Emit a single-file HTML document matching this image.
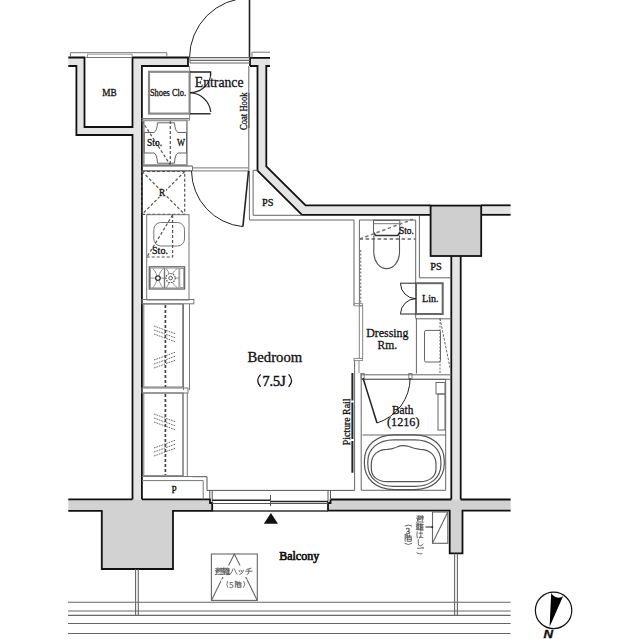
<!DOCTYPE html>
<html><head><meta charset="utf-8">
<style>
html,body{margin:0;padding:0;background:#fff;}
svg{display:block;}
text{font-family:"Liberation Serif",serif;fill:#111;stroke:#111;stroke-width:0.3px;}
</style></head><body>
<svg width="640" height="639" viewBox="0 0 640 639">
<g id="walls-fill" stroke="none">
  <polygon fill="#e4e4e4" points="68.3,57.5 84.5,57.5 84.5,127 132.5,127 132.5,57.5 188,57.5 188,66 141.9,66 141.9,499.3 132.5,499.3 132.5,135 76.4,135 76.4,66 68.3,66"/>
  <polygon fill="#e4e4e4" points="250,57.8 270,57.8 270,66 266.3,66 266.3,166.3 305.6,205.3 430.6,205.3 430.6,214.8 302,214.8 257.5,170.6 257.5,66 250,66"/>
  <rect fill="#e4e4e4" x="481" y="205.3" width="29.6" height="9.5"/>
  <rect fill="#e4e4e4" x="451.3" y="256" width="9.4" height="243.5"/>
  <polygon fill="#d2d2d2" points="68.3,499.3 210,499.3 210,503 212.2,503 212.2,510.8 173,510.8 173,569 101.8,569 101.8,510.8 68.3,510.8"/>
  <polygon fill="#d2d2d2" points="330.5,499.5 510.6,499.5 510.6,510.6 462.5,510.6 462.5,553.4 449.7,553.4 449.7,510.6 328,510.6 328,503 330.5,503"/>
  <rect fill="#cfcfcf" x="430.6" y="205.6" width="50.6" height="50.4"/>
</g>
<g id="walls-lines" fill="none" stroke="#111" stroke-width="1.8" stroke-linejoin="miter">
  <polyline points="68.3,57.5 84.5,57.5 84.5,127 132.5,127 132.5,57.5 188,57.5 188,66 141.9,66 141.9,499.3"/>
  <polyline points="68.3,66 76.4,66 76.4,135 132.5,135 132.5,499.3"/>
  <polyline points="250,66 250,57.8 270,57.8"/>
  <polyline points="270,66 266.3,66 266.3,166.3 305.6,205.3 430.6,205.3"/>
  <polyline points="250,66 257.5,66 257.5,170.6 302,214.8 430.6,214.8"/>
  <rect x="430.6" y="205.6" width="50.6" height="50.4"/>
  <line x1="481" y1="205.3" x2="510.6" y2="205.3"/>
  <line x1="481" y1="214.8" x2="510.6" y2="214.8"/>
  <line x1="451.3" y1="256" x2="451.3" y2="499.5"/>
  <line x1="460.7" y1="256" x2="460.7" y2="499.5"/>
  <polyline points="68.3,499.3 132.5,499.3"/>
  <polyline points="141.9,499.3 210,499.3 210,503 212.2,503 212.2,510.8 173,510.8 173,569 101.8,569 101.8,510.8 68.3,510.8"/>
  <polyline points="330.5,499.5 451.3,499.5"/>
  <polyline points="460.7,499.5 510.6,499.5"/>
  <polyline points="510.6,510.6 462.5,510.6 462.5,553.4 449.7,553.4 449.7,510.6 328,510.6 328,503 330.5,503 330.5,499.5"/>
</g>

<!-- interior thin lines -->
<g fill="none" stroke="#666" stroke-width="1">
  <!-- coat hook wall face & PS (entrance) -->
  <polyline points="248.8,66 248.8,171"/>
  <line x1="249" y1="93" x2="249" y2="128" stroke="#555" stroke-width="1.1"/>
  <polyline points="249.4,171 249.4,220 354,220 354,305"/>
  <polyline points="257.5,170.3 253.1,170.3 253.1,215.3 302,215.3"/>
  <!-- shoes closet -->
  <rect x="149" y="71.8" width="40.6" height="41.8" stroke="#8a8a8a" stroke-width="2.2"/>
  <line x1="141.5" y1="118.6" x2="190" y2="118.6" stroke="#777" stroke-width="1.2"/>
  <line x1="141.5" y1="120.4" x2="190" y2="120.4" stroke="#999" stroke-width="0.8"/>
  <line x1="189.6" y1="66" x2="189.6" y2="120" stroke="#888" stroke-width="1"/>
</g>
<g fill="none" stroke="#222" stroke-width="1.1">
  <polyline points="190,72 210.6,72 210.6,76" stroke-width="1.4"/>
  <path d="M210.6,76 A20.6,20.6 0 0 1 190,92.6"/>
  <line x1="190" y1="113.8" x2="210.6" y2="113.8" stroke-width="1.4"/>
  <path d="M210.8,112 A21.5,21.5 0 0 0 190,92.8"/>
</g>
<!-- washer / storage -->
<g fill="none" stroke="#777" stroke-width="1">
  <rect x="143.8" y="120.4" width="43.1" height="44.6" stroke="#999" stroke-width="1.8"/>
  <path d="M157.5,122.8 L174.5,122.8 Q175,131 178,132.5 L186.5,132.5 L186.5,153 L178,153 Q175,154 174.5,163.2 L157.5,163.2 Q157,154 154,153 L144.2,153 L144.2,132.5 L154,132.5 Q157,131 157.5,122.8 Z" stroke="#666"/>
  <line x1="170.3" y1="121" x2="170.3" y2="165" stroke-dasharray="3,2" stroke="#555" stroke-width="1.2"/>
  <line x1="142" y1="121" x2="170.3" y2="165" stroke-dasharray="3,2" stroke="#555" stroke-width="1.2"/>
  <line x1="141.5" y1="166" x2="192.5" y2="166" stroke="#555" stroke-width="1.2"/>
  <line x1="141.5" y1="170.8" x2="192.5" y2="170.8" stroke="#555" stroke-width="1.2"/>
  <line x1="192.5" y1="166" x2="192.5" y2="171"/>
  <!-- threshold interior door -->
  <line x1="192.5" y1="167.9" x2="248.5" y2="167.9"/>
  <line x1="192.5" y1="170.9" x2="248.5" y2="170.9"/>
  <!-- fridge -->
  <rect x="142" y="171.5" width="42.7" height="42.9" stroke-dasharray="3,2" stroke="#555" stroke-width="1.2"/>
  <line x1="142" y1="171.5" x2="184.7" y2="214.4" stroke-dasharray="3,2" stroke="#555" stroke-width="1.2"/>
  <line x1="184.7" y1="171.5" x2="142" y2="214.4" stroke-dasharray="3,2" stroke="#555" stroke-width="1.2"/>
  <!-- kitchen -->
  <rect x="146.7" y="214.7" width="42.3" height="85.3"/>
  <rect x="153.8" y="222.5" width="30.7" height="23.5" rx="7"/>
  <polyline points="146.7,257 172.6,257 172.6,214.7" stroke-dasharray="3,2" stroke="#555" stroke-width="1.2"/>
  <line x1="172.6" y1="215" x2="147" y2="257" stroke-dasharray="3,2" stroke="#555" stroke-width="1.2"/>
  <rect x="149.3" y="266.8" width="35.3" height="22.2" stroke="#666" stroke-width="1.3"/>
  <rect x="150.6" y="268.1" width="28.3" height="19.8" stroke="#888" stroke-width="0.8"/>
  <rect x="179.8" y="268.5" width="3.9" height="19" stroke="#888" stroke-width="0.8"/>
  <line x1="164.5" y1="268" x2="164.5" y2="288" stroke="#777" stroke-width="1.4"/>
  <path d="M152.8,268.5 C156,272 156.5,275 157.9,278.1 C159.3,275 159.8,272 163,268.5 M152.8,288 C156,284 156.5,281 157.9,278.1 C159.3,281 159.8,284 163,288 M150.6,278.1 H164.5 M166,268.5 C169.2,272 169.7,275 170.6,278.1 C172,275 172.5,272 177.5,268.5 M166,288 C169.2,284 169.7,281 170.6,278.1 C172,281 172.5,284 177.5,288 M164.5,278.1 H178.9" stroke="#777" stroke-width="0.8"/>
  <circle cx="157.9" cy="278.1" r="2.3" stroke="#333" stroke-width="1.3" fill="#fff"/>
  <circle cx="170.6" cy="278.1" r="4.6" stroke="#555" stroke-width="1.1" stroke-dasharray="1.6,1" fill="#fff"/>
  <circle cx="170.6" cy="278.1" r="1.8" stroke="#444" stroke-width="0.9"/>
  <rect x="142" y="299.5" width="51.8" height="4.3" stroke="#777"/>
  <!-- closets -->
  <rect x="143.8" y="304" width="38.9" height="83" stroke="#777"/>
  <line x1="165.4" y1="305" x2="165.4" y2="387" stroke="#444" stroke-width="1.7" stroke-dasharray="3,2"/>
  <line x1="183.5" y1="304" x2="183.5" y2="390"/>
  <line x1="189.5" y1="304" x2="189.5" y2="390"/>
  <rect x="142" y="388" width="46" height="5" stroke="#777"/>
  <rect x="143.8" y="393" width="39.2" height="82.7" stroke="#777"/>
  <line x1="165.4" y1="394" x2="165.4" y2="475" stroke="#444" stroke-width="1.7" stroke-dasharray="3,2"/>
  <line x1="183" y1="393" x2="183" y2="476"/>
  <line x1="187.3" y1="393" x2="187.3" y2="476"/>
  <polyline points="142,480.6 203.2,480.6 203.2,499.3"/>
  <line x1="142" y1="476.5" x2="192.2" y2="476.5"/>
</g>
<g fill="none" stroke="#555" stroke-width="0.9" stroke-dasharray="1.6,1">
  <path d="M154,326 L176,334 M154,330 L176,338 M154,334 L176,342"/>
  <path d="M154,364 L176,356 M154,360 L176,352 M154,368 L176,360"/>
  <path d="M154,414 L176,422 M154,418 L176,426 M154,422 L176,430"/>
  <path d="M154,452 L176,444 M154,448 L176,440 M154,456 L176,448"/>
</g>
<!-- interior door -->
<g fill="none" stroke="#222" stroke-width="1">
  <line x1="248.5" y1="171" x2="242.9" y2="226.6" stroke-width="1.6"/>
  <path d="M242.9,226.6 A56.5,56.5 0 0 1 191.5,171"/>
</g>
<!-- dressing / toilet -->
<g fill="none" stroke="#666" stroke-width="1">
  <line x1="359.4" y1="220" x2="359.4" y2="305"/>
  <polyline points="359.4,220 415.7,220 415.7,318.3"/>
  <line x1="360.4" y1="250" x2="360.4" y2="303" stroke-dasharray="2,1.6" stroke="#888" stroke-width="1.8"/>
  <polyline points="373.5,232.5 373.5,220.4 399.8,220.4 399.8,232.5" stroke="#666" stroke-width="1.1"/>
  <line x1="373.5" y1="223.7" x2="399.8" y2="223.7" stroke="#777"/>
  <path d="M373.5,232.5 L375.5,235.5 L397.8,235.5 L399.8,232.5" stroke="#333" stroke-width="1.7"/>
  <path d="M373.8,235.5 L373.8,252 C373.8,262 380,268.6 386.6,268.6 C393.2,268.6 399.5,262 399.5,252 L399.5,235.5" stroke="#555" stroke-width="1.1"/>
  <line x1="359.6" y1="239" x2="415.7" y2="239" stroke-dasharray="3.5,2.5" stroke="#666" stroke-width="1.5"/>
  <line x1="359.6" y1="239" x2="413" y2="219.3" stroke-dasharray="3.5,2.5" stroke="#777" stroke-width="1.5"/>
  <polyline points="419.4,215.5 419.4,277.8 451.3,277.8"/>
  <rect x="416" y="283.2" width="26.7" height="30.8" stroke="#666" stroke-width="2"/>
  <line x1="415.7" y1="318.8" x2="451.3" y2="318.8"/>
  <!-- partition bedroom/dressing -->
  <rect x="354" y="303.6" width="8.5" height="2.2" stroke="#888" stroke-width="0.9"/>
  <rect x="359.3" y="305.8" width="3.4" height="52.6" stroke="#777" stroke-width="0.9"/>
  <rect x="354" y="358.4" width="8.5" height="2.2" stroke="#888" stroke-width="0.9"/>
  <line x1="354.6" y1="360.6" x2="354.6" y2="490.3"/>
  <line x1="359" y1="360.6" x2="359" y2="373" stroke="#888"/>
  <line x1="361.2" y1="373" x2="361.2" y2="490.3"/>
  <rect x="361" y="373.5" width="3.2" height="5.5" stroke="#777" stroke-width="0.9"/>
  <rect x="408.8" y="373.5" width="3.2" height="5.5" stroke="#777" stroke-width="0.9"/>
  <line x1="416.4" y1="318" x2="416.4" y2="373.5"/>
  <rect x="424.5" y="330.4" width="16" height="31.6" rx="1.5"/>
  <line x1="440" y1="318.5" x2="440" y2="373" stroke-dasharray="2,1.5"/>
  <line x1="440" y1="318.5" x2="450.5" y2="370" stroke-dasharray="2.5,1.5"/>
  <line x1="361.5" y1="374.8" x2="451.3" y2="374.8"/>
  <line x1="361.5" y1="379.3" x2="451.3" y2="379.3"/>
  <rect x="436" y="382.5" width="9" height="11.5"/>
  <rect x="438" y="394" width="7" height="36"/>
  <polyline points="364,379.3 445.7,379.3 445.7,490.3 361.2,490.3"/>
  <line x1="362.5" y1="435" x2="446" y2="435"/>
  <path d="M394.4,434.8 L414.3,434.8 C432.3,434.8 444.3,445.2 444.3,460.8 L444.3,463.6 C444.3,479.2 432.3,489.6 414.3,489.6 L394.4,489.6 C376.4,489.6 364.4,479.2 364.4,463.6 L364.4,460.8 C364.4,445.2 376.4,434.8 394.4,434.8 Z" stroke="#555" stroke-width="1.2"/>
  <path d="M393.8,439.8 L414.9,439.8 C430.5,439.8 440.9,448.6 440.9,461.8 L440.9,464.4 C440.9,477.6 430.5,486.4 414.9,486.4 L393.8,486.4 C378.2,486.4 367.8,477.6 367.8,464.4 L367.8,461.8 C367.8,448.6 378.2,439.8 393.8,439.8 Z" stroke="#555" stroke-width="1.2"/>
  <path d="M387.3,449.3 C395.3,448.8 393,447.8 397,447 C400,445.5 405,445.3 409,446.5 C412,447.8 416,448.8 420.0,449.3 C429.6,449.3 436.0,455.3 436.0,464.3 L436.0,468.7 C436.0,476.5 429.6,481.7 420.0,481.7 L387.3,481.7 C377.7,481.7 371.3,476.5 371.3,468.7 L371.3,464.3 C371.3,455.3 377.7,449.3 387.3,449.3 Z" stroke="#555" stroke-width="1.2"/>
</g>
<g fill="none" stroke="#222" stroke-width="1">
  <polyline points="400,283.2 415.7,283.2"/>
  <path d="M400.5,283.5 A15.5,15.5 0 0 0 415.7,298.7"/>
  <polyline points="400,314 415.7,314"/>
  <path d="M400.5,313.7 A15.5,15.5 0 0 1 415.7,298.7"/>
  <line x1="363" y1="378" x2="377" y2="423" stroke-width="1.5"/>
  <path d="M377,423 A47.1,47.1 0 0 0 410.1,378"/>
  <path d="M352.4,373 V400.5 M352.4,402.5 V439 M352.4,441 V472.7" stroke-width="2"/>
</g>

<!-- texts -->
<g id="texts">
  <text x="102.2" y="95.6" font-size="9.5" textLength="14.4" lengthAdjust="spacingAndGlyphs">MB</text>
  <text x="150" y="95.6" font-size="9.3" textLength="36" lengthAdjust="spacingAndGlyphs">Shoes Clo.</text>
  <text x="194.8" y="86.5" font-size="14.8" textLength="48.7" lengthAdjust="spacingAndGlyphs">Entrance</text>
  <text transform="translate(247.2,130) rotate(-90)" x="0" y="0" font-size="10.5" textLength="37.5" lengthAdjust="spacingAndGlyphs">Coat Hook</text>
  <text x="147" y="146" font-size="9.3" textLength="15" lengthAdjust="spacingAndGlyphs">Sto.</text>
  <text x="177" y="146" font-size="9.3" textLength="8" lengthAdjust="spacingAndGlyphs">W</text>
  <rect x="158.5" y="188" width="7.5" height="9" fill="#fff" stroke="none"/><text x="159" y="195.6" font-size="9.3">R</text>
  <text x="152" y="253.5" font-size="9.3" textLength="16" lengthAdjust="spacingAndGlyphs">Sto.</text>
  <text x="262" y="206" font-size="9.3" textLength="11.5" lengthAdjust="spacingAndGlyphs">PS</text>
  <text x="247.5" y="361.9" font-size="14.3" textLength="54.8" lengthAdjust="spacingAndGlyphs">Bedroom</text>
  <text x="398.9" y="234" font-size="9.3" textLength="15" lengthAdjust="spacingAndGlyphs">Sto.</text>
  <text x="430.3" y="270" font-size="9.3" textLength="11.5" lengthAdjust="spacingAndGlyphs">PS</text>
  <text x="422" y="301.5" font-size="9.3" textLength="16.5" lengthAdjust="spacingAndGlyphs">Lin.</text>
  <text x="366.2" y="336.6" font-size="13.4" textLength="42.3" lengthAdjust="spacingAndGlyphs">Dressing</text>
  <text x="377.6" y="348.8" font-size="13.4" textLength="19.6" lengthAdjust="spacingAndGlyphs">Rm.</text>
  <text x="392" y="414" font-size="12.5" textLength="21.4" lengthAdjust="spacingAndGlyphs">Bath</text>
  <text x="387" y="425.5" font-size="12.5" textLength="32.5" lengthAdjust="spacingAndGlyphs">(1216)</text>
  <text transform="translate(349.5,445.3) rotate(-90)" x="0" y="0" font-size="10" textLength="46.8" lengthAdjust="spacingAndGlyphs">Picture Rail</text>
  <text x="171.5" y="492.5" font-size="9.3">P</text>
  <text x="279.2" y="559.5" style="stroke-width:0.7px" font-size="13.2" textLength="40" lengthAdjust="spacingAndGlyphs">Balcony</text>
</g>
<g fill="none" stroke="#111" stroke-width="0.9">
  <path d="M260.6,374.3 Q254.8,380.5 260.6,386.8" stroke-width="1.2"/>
  <path d="M288.6,374.3 Q294.4,380.5 288.6,386.8" stroke-width="1.2"/>
</g>
<text x="262.4" y="386.1" font-size="14" textLength="23.3" lengthAdjust="spacingAndGlyphs" style="stroke-width:0.45px">7.5J</text>
<!-- compass -->
<g>
  <circle cx="553.6" cy="610.4" r="18.2" fill="none" stroke="#111" stroke-width="1.2"/>
  <path d="M549.6,626.8 L551.2,593 C553,597 559,599.5 563.2,596 Z" fill="#000"/>
  <text x="543.5" y="638.3" font-size="11" font-weight="bold" font-style="italic" style="font-family:'Liberation Sans',sans-serif" textLength="9.6" lengthAdjust="spacingAndGlyphs">N</text>
</g>
<!-- parapet -->
<g fill="none" stroke="#777" stroke-width="1">
  <polyline points="70.5,57 70.5,52.7 166.8,52.7 166.8,57"/>
  <line x1="85.5" y1="57.5" x2="131.5" y2="57.5"/>
  <polyline points="87.5,57 87.5,54.2 132.2,54.2 132.2,57" stroke="#999"/>
  <polyline points="252,57.5 252,52.2 270,52.2"/>
</g>
<!-- entrance door -->
<g fill="none" stroke="#222" stroke-width="1.2">
  <line x1="249.5" y1="0" x2="249.5" y2="58" stroke-width="1.6"/>
  <path d="M189.5,58 A60,60 0 0 1 249.5,-2" stroke-width="1"/>
  <line x1="189" y1="57.6" x2="250" y2="57.6" stroke="#666"/>
  <line x1="190" y1="60.3" x2="250" y2="60.3" stroke="#666"/>
  <line x1="190" y1="63" x2="250" y2="63" stroke="#666"/>
  <line x1="189.6" y1="57.5" x2="190.3" y2="63" stroke="#777"/>
</g>
<!-- balcony -->
<g fill="none" stroke="#666" stroke-width="1.1">
  <line x1="68" y1="602.2" x2="510.6" y2="602.2"/>
  <line x1="68" y1="611" x2="510.6" y2="611"/>
  <line x1="68" y1="615.4" x2="510.6" y2="615.4"/>
  <line x1="68" y1="623.5" x2="510.6" y2="623.5"/>
  <line x1="68" y1="633.5" x2="510.6" y2="633.5"/>
  <line x1="135.6" y1="569" x2="135.6" y2="615.4"/>
  <line x1="138.3" y1="569" x2="138.3" y2="615.4"/>
  <line x1="454.6" y1="553.4" x2="454.6" y2="615.4"/>
  <line x1="457.4" y1="553.4" x2="457.4" y2="615.4"/>
  <rect x="211.4" y="554" width="45.9" height="46.4"/>
  <polyline points="211.4,600.4 234.3,554 257.3,600.4"/>
  <rect x="432.5" y="512" width="15.3" height="31.3"/>
  <line x1="432.5" y1="543.3" x2="447.8" y2="512"/>
  <line x1="425.5" y1="527" x2="432.5" y2="527" stroke="#333"/>
</g>
<!-- window -->
<g fill="none" stroke="#555" stroke-width="1">
  <polyline points="192.2,476.7 207,476.7 207,490.4 354.6,490.4"/>
  <line x1="209.8" y1="490.4" x2="209.8" y2="499.3"/>
  <line x1="212.2" y1="490.4" x2="212.2" y2="503"/>
  <line x1="328" y1="490.4" x2="328" y2="503"/>
  <line x1="330.5" y1="490.4" x2="330.5" y2="499.5"/>
  <line x1="212.2" y1="500.3" x2="271" y2="500.3" stroke="#222" stroke-width="1.6"/><line x1="270" y1="501.5" x2="328" y2="501.5" stroke="#222" stroke-width="1.6"/>
  <line x1="212.2" y1="503.5" x2="328" y2="503.5"/>
  <line x1="212.2" y1="511" x2="328" y2="511" stroke="#333" stroke-width="1.3"/>
  <line x1="270.5" y1="495" x2="270.5" y2="506"/>
</g>
<polygon points="263.8,523.8 278,523.8 270.9,513" fill="#111"/>
<!-- japanese glyph approximations -->
<rect x="213.5" y="565.5" width="41" height="11.5" fill="#fff"/>
<rect x="221" y="579.5" width="26" height="9.5" fill="#fff"/>
<g fill="none" stroke="#5a5a5a" stroke-linecap="round">
<path transform="translate(214.80,567.50) scale(0.740)" d="M1,1 L2,2 M0.5,4 L2,4 L2,8 M0.5,9.5 Q3,8.5 10,9.5 M3,1 L6,1 L6,3 L3,3 M3,1 L3,7 M4,4 L6,4 L6,6 L4,6 Z M7,1.5 L10,1.5 M8.5,0.5 L8.5,1.5 M7,3 L10,3 M7,5 L10,5 M8.5,3 L8.5,8" stroke-width="1.2"/>
<path transform="translate(222.40,567.50) scale(0.740)" d="M0,1.5 L5,1.5 M1.5,0.5 L1.5,3 M3.5,0.5 L3.5,3 M1,3.5 L4,3.5 L4,5.5 L1,5.5 Z M0.5,7 L4.5,7 M2.5,5.5 L2.5,9 M0,9 L5,9 M6.5,0.5 L5.5,3 M6,2 L6,10 M6,2 L10,2 M8,1 L8,9.5 M6.5,4 L9.5,4 M6.5,6 L9.5,6 M6.5,8 L9.5,8 M6,9.5 L10,9.5" stroke-width="1.2"/>
<path transform="translate(230.00,567.50) scale(0.740)" d="M4,2 Q3,6 0.5,9 M6,2 Q7,6 9.5,9" stroke-width="1.2"/>
<path transform="translate(237.60,567.50) scale(0.740)" d="M2,4 L3,6 M4.5,3.5 L5.5,5.5 M8,3.5 Q7.5,8 3,9.5" stroke-width="1.2"/>
<path transform="translate(245.20,567.50) scale(0.740)" d="M8,1 Q5,2 2,2.5 M0.5,5 L9.5,5 M5,2.5 L5,6 Q5,9 2.5,9.5" stroke-width="1.2"/>
<path transform="translate(223.60,580.90) scale(0.680)" d="M6,0.5 Q3,5 6,9.5" stroke-width="1.2"/>
<path transform="translate(235.00,581.00) scale(0.660)" d="M0.5,0.5 L0.5,10 M0.5,0.5 L2.5,0.5 L1.5,3 L2.5,5 L0.5,6 M3.5,1 L3.5,4 L5.5,4 M6.5,1 L6.5,4 L9.5,4 M3,2.5 L5.5,2.5 M6.5,2.5 L9,2.5 M3.5,5 L9,5 L9,10 L3.5,10 L3.5,5 M3.5,7.5 L9,7.5" stroke-width="1.2"/>
<path transform="translate(241.10,580.90) scale(0.680)" d="M4,0.5 Q7,5 4,9.5" stroke-width="1.2"/>
<path transform="translate(416.10,515.20) scale(0.730)" d="M1,1 L2,2 M0.5,4 L2,4 L2,8 M0.5,9.5 Q3,8.5 10,9.5 M3,1 L6,1 L6,3 L3,3 M3,1 L3,7 M4,4 L6,4 L6,6 L4,6 Z M7,1.5 L10,1.5 M8.5,0.5 L8.5,1.5 M7,3 L10,3 M7,5 L10,5 M8.5,3 L8.5,8" stroke-width="1.2"/>
<path transform="translate(416.10,523.10) scale(0.730)" d="M0,1.5 L5,1.5 M1.5,0.5 L1.5,3 M3.5,0.5 L3.5,3 M1,3.5 L4,3.5 L4,5.5 L1,5.5 Z M0.5,7 L4.5,7 M2.5,5.5 L2.5,9 M0,9 L5,9 M6.5,0.5 L5.5,3 M6,2 L6,10 M6,2 L10,2 M8,1 L8,9.5 M6.5,4 L9.5,4 M6.5,6 L9.5,6 M6.5,8 L9.5,8 M6,9.5 L10,9.5" stroke-width="1.2"/>
<path transform="translate(416.10,531.00) scale(0.730)" d="M1.5,1 Q0.5,5 1.5,9.5 M4,3 L9,3 M6.5,1 L6.5,8 Q6.5,9.5 5,9.5 Q3.5,9.5 4,8.5 Q5,7.5 9.5,9" stroke-width="1.2"/>
<path transform="translate(416.10,538.90) scale(0.730)" d="M3,1 L3,7 Q3,9.5 6,9.5 Q8,9.5 9.5,7" stroke-width="1.2"/>
<path transform="translate(416.10,546.80) scale(0.730)" d="M2,2 L7,2 M1,8 Q1,9.5 5,9.5 L8,9.5 M8,0.5 L8.5,2 M9.5,0.5 L10,2" stroke-width="1.2"/>
<path transform="translate(404.60,521.50) scale(0.750)" d="M0.5,6 Q5,3 9.5,6" stroke-width="1.2"/>
<path transform="translate(404.80,534.20) scale(0.720)" d="M0.5,0.5 L0.5,10 M0.5,0.5 L2.5,0.5 L1.5,3 L2.5,5 L0.5,6 M3.5,1 L3.5,4 L5.5,4 M6.5,1 L6.5,4 L9.5,4 M3,2.5 L5.5,2.5 M6.5,2.5 L9,2.5 M3.5,5 L9,5 L9,10 L3.5,10 L3.5,5 M3.5,7.5 L9,7.5" stroke-width="1.2"/>
<path transform="translate(404.60,540.50) scale(0.750)" d="M0.5,4 Q5,7 9.5,4" stroke-width="1.2"/>
</g>
<text x="229.2" y="587.6" font-size="8.4" style="font-family:'Liberation Serif',serif;stroke:#666;stroke-width:0.25px;fill:#666">5</text>
<text x="405.8" y="533.5" font-size="8.6" style="font-family:'Liberation Serif',serif;stroke:#555;stroke-width:0.35px;fill:#555">3</text>
<circle cx="432.3" cy="527.2" r="0.9" fill="#222"/>
</svg>
</body></html>
